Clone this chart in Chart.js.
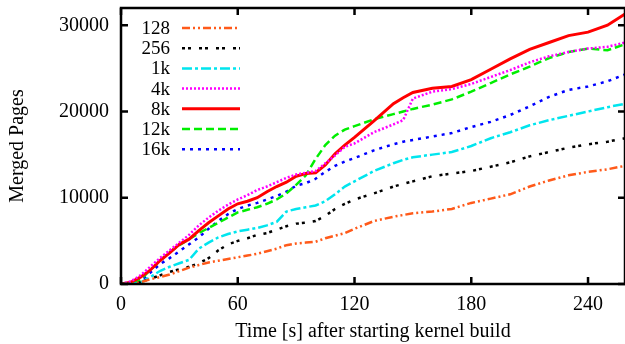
<!DOCTYPE html>
<html>
<head>
<meta charset="utf-8">
<script src="https://cdn.jsdelivr.net/npm/chart.js@4/dist/chart.umd.min.js"></script>
<style>
  html, body { margin: 0; padding: 0; background: #fff; }
  #wrap { width: 625px; height: 344px; }
</style>
</head>
<body>
<div id="wrap"><canvas id="mergeChart" width="625" height="344"></canvas></div>
<script>
// time after starting kernel build [s]
const times = [0, 5, 10, 15, 20, 25, 30, 35, 40, 45, 50, 55, 60, 65, 70, 75, 80, 85, 90, 95,
  100, 105, 110, 115, 120, 130, 140, 145, 150, 160, 170, 180, 190, 200, 210, 220, 230, 240, 250, 259];

const seriesLabels = ['128', '256', '1k', '4k', '8k', '12k', '16k'];

// merged pages per scan size
const pages128 = [0, 0, 200, 550, 800, 1100, 1500, 1900, 2200, 2500, 2700, 2900, 3100, 3300, 3500, 3800, 4100, 4500, 4700, 4800,
  4900, 5300, 5600, 5900, 6400, 7300, 7800, 8000, 8200, 8400, 8700, 9400, 9900, 10400, 11300, 12000, 12600, 13000, 13300, 13700];
const pages256 = [0, 0, 200, 600, 1000, 1400, 1700, 2000, 2400, 3000, 3900, 4600, 5000, 5300, 5700, 5900, 6300, 6700, 7000, 7100,
  7300, 7900, 8700, 9300, 9800, 10500, 11300, 11600, 11900, 12500, 12800, 13100, 13600, 14100, 14800, 15300, 15800, 16200, 16500, 16900];
const pages1k = [0, 0, 150, 800, 1500, 2000, 2400, 2800, 4100, 4800, 5400, 5800, 6100, 6300, 6500, 6800, 7200, 8400, 8700, 8900,
  9100, 9600, 10400, 11300, 11900, 13100, 14000, 14400, 14700, 15000, 15300, 16000, 16900, 17600, 18400, 19000, 19500, 20000, 20500, 20900];
const pages4k = [0, 300, 1000, 2000, 3000, 3900, 4800, 5700, 6800, 7700, 8500, 9200, 9800, 10300, 10900, 11300, 11800, 12300, 12700, 12900,
  13100, 14000, 14900, 15900, 16300, 17600, 18500, 19000, 21500, 22300, 22600, 23200, 24000, 24800, 25700, 26400, 26900, 27300, 27500, 28000];
const pages8k = [0, 200, 800, 1600, 2700, 3600, 4600, 5200, 6200, 7100, 7900, 8700, 9300, 9600, 10000, 10700, 11300, 11800, 12500, 12800,
  12900, 13800, 15100, 16100, 17000, 18900, 20900, 21600, 22200, 22700, 22900, 23700, 24900, 26100, 27200, 28000, 28800, 29200, 30000, 31300];
const pages12k = [0, 50, 500, 1600, 2700, 3700, 4500, 5200, 5900, 6500, 7100, 7700, 8300, 8600, 8900, 9300, 9800, 10500, 11500, 12600,
  14500, 16100, 17200, 17900, 18300, 19100, 19700, 20000, 20300, 20800, 21400, 22300, 23300, 24300, 25200, 26200, 26900, 27300, 27100, 27800];
const pages16k = [0, 50, 300, 1300, 2300, 3000, 3800, 4600, 5400, 6400, 7300, 8100, 8700, 9100, 9400, 9800, 10200, 10700, 11400, 11700,
  12200, 13000, 13700, 14200, 14600, 15500, 16200, 16500, 16700, 17100, 17500, 18200, 18800, 19600, 20600, 21700, 22500, 22900, 23500, 24300];

const xTicks = [0, 60, 120, 180, 240];
const yTicks = [0, 10000, 20000, 30000];

const FONT = "'Liberation Serif', 'Times New Roman', serif";

function toPoints(values) {
  return times.map((t, i) => ({ x: t, y: values[i] }));
}

function makeSet(idx, values, color, dash, width) {
  return {
    label: seriesLabels[idx],
    data: toPoints(values),
    borderColor: color,
    backgroundColor: color,
    borderDash: dash,
    borderWidth: width || 2.5,
    pointRadius: 0,
    tension: 0,
    fill: false
  };
}

const datasets = [
  makeSet(0, pages128, '#ff5a1a', [8, 3, 2, 3, 2, 3]),
  makeSet(1, pages256, '#000000', [3, 3, 3, 8]),
  makeSet(2, pages1k, '#00e5ee', [10, 3, 3, 3]),
  makeSet(3, pages4k, '#ff00ff', [2, 2]),
  makeSet(4, pages8k, '#ff0000', [], 3),
  makeSet(5, pages12k, '#00ee00', [8, 4]),
  makeSet(6, pages16k, '#0000ff', [3, 5])
];

// frame with gnuplot style inward ticks
const framePlugin = {
  id: 'frame',
  afterDatasetsDraw(chart) {
    const { ctx, chartArea: a, scales } = chart;
    const len = 7;
    ctx.save();
    ctx.strokeStyle = '#000';
    ctx.lineWidth = 2.5;
    ctx.setLineDash([]);
    ctx.strokeRect(a.left, a.top, a.right - a.left, a.bottom - a.top);
    ctx.beginPath();
    xTicks.forEach(v => {
      const px = scales.x.getPixelForValue(v);
      ctx.moveTo(px, a.bottom); ctx.lineTo(px, a.bottom - len);
      ctx.moveTo(px, a.top); ctx.lineTo(px, a.top + len);
    });
    yTicks.forEach(v => {
      const py = scales.y.getPixelForValue(v);
      ctx.moveTo(a.left, py); ctx.lineTo(a.left + len, py);
      ctx.moveTo(a.right, py); ctx.lineTo(a.right - len, py);
    });
    ctx.stroke();
    ctx.restore();
  }
};

// legend inside the plot, labels right aligned before the samples
const keyPlugin = {
  id: 'key',
  afterDraw(chart) {
    const { ctx } = chart;
    ctx.save();
    ctx.font = '19px ' + FONT;
    ctx.textAlign = 'right';
    ctx.textBaseline = 'middle';
    chart.data.datasets.forEach((ds, i) => {
      const y = 28 + i * 20.2;
      ctx.fillStyle = '#000';
      ctx.fillText(ds.label, 170, y + 1);
      ctx.strokeStyle = ds.borderColor;
      ctx.lineWidth = ds.borderWidth;
      ctx.setLineDash(ds.borderDash);
      ctx.beginPath();
      ctx.moveTo(182, y);
      ctx.lineTo(240, y);
      ctx.stroke();
    });
    ctx.restore();
  }
};

new Chart(document.getElementById('mergeChart'), {
  type: 'line',
  data: { datasets: datasets },
  options: {
    responsive: false,
    animation: false,
    layout: { padding: { top: 8, right: 0, left: 0, bottom: 0 } },
    plugins: { legend: { display: false }, tooltip: { enabled: false } },
    scales: {
      x: {
        type: 'linear',
        min: 0,
        max: 259,
        afterFit(scale) {
          scale.height = 60;
          scale.paddingLeft = 0;
          scale.paddingRight = 0;
        },
        afterBuildTicks(scale) { scale.ticks = xTicks.map(v => ({ value: v })); },
        grid: { display: false, drawTicks: false },
        border: { display: false },
        ticks: {
          padding: 9,
          color: '#000',
          font: { family: FONT, size: 20 },
          callback: v => String(v)
        },
        title: {
          display: true,
          text: 'Time [s] after starting kernel build',
          color: '#000',
          font: { family: FONT, size: 20 },
          padding: { top: 4, bottom: 0 }
        }
      },
      y: {
        min: 0,
        max: 32000,
        afterFit(scale) {
          scale.width = 121;
          scale.paddingTop = 0;
          scale.paddingBottom = 0;
        },
        afterBuildTicks(scale) { scale.ticks = yTicks.map(v => ({ value: v })); },
        grid: { display: false, drawTicks: false },
        border: { display: false },
        ticks: {
          padding: 12,
          color: '#000',
          font: { family: FONT, size: 20 },
          callback: v => String(v)
        },
        title: {
          display: true,
          text: 'Merged Pages',
          color: '#000',
          font: { family: FONT, size: 20 },
          padding: { top: 6, bottom: 0 }
        }
      }
    }
  },
  plugins: [framePlugin, keyPlugin]
});
</script>
</body>
</html>
